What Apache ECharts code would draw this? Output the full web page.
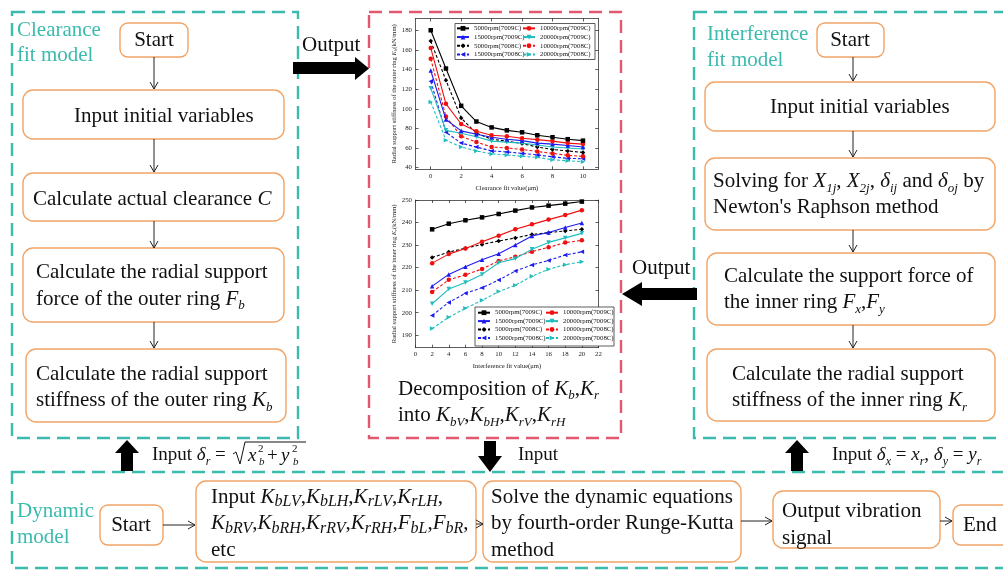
<!DOCTYPE html>
<html><head><meta charset="utf-8">
<script src="https://cdn.jsdelivr.net/npm/echarts@6/dist/echarts.min.js"></script>
<style>html,body{margin:0;padding:0;background:#fff}#c{width:1003px;height:572px}</style>
</head><body><div id="c"></div>
<script>
// ---------- data ----------
const seriesNames = ['5000rpm(7009C)','10000rpm(7009C)','15000rpm(7009C)','20000rpm(7009C)','5000rpm(7008C)','10000rpm(7008C)','15000rpm(7008C)','20000rpm(7008C)'];
const clearanceX = [0,1,2,3,4,5,6,7,8,9,10];
const outer5000_7009  = [180,141,103,87,81,78,76,73,71,69,67.5];
const outer10000_7009 = [162,105,84.5,77,73,72,70,68.5,67,65,64];
const outer15000_7009 = [139,89,77.5,74,71,69,67.5,65,64,62.5,61];
const outer20000_7009 = [121,78,75,71.5,67,66,65,63,61,60,59];
const outer5000_7008  = [169,129,90.5,75,69,67,64.5,61,58.5,57,55.5];
const outer10000_7008 = [151,92,72,66,61,60,58.5,56.5,54.5,52.5,51.5];
const outer15000_7008 = [128,76,65,61,57,56,54.5,53,51,49.5,49];
const outer20000_7008 = [107,68,61,57,54,53,51.5,50.5,48,47,46];
const interferenceX = [2,4,6,8,10,12,14,16,18,20];
const inner5000_7009  = [237,239.5,241,242.3,243.8,245.3,246.7,247.5,248.4,249.3];
const inner10000_7009 = [222,226,228.5,231.5,234.2,237,239.2,241.3,243.3,245.5];
const inner15000_7009 = [211.8,217,220.4,223.5,226.2,230,234,235.6,237.8,239.8];
const inner20000_7009 = [204,210.5,213.4,217,222.2,224,228.2,231.2,233.2,235.2];
const inner5000_7008  = [224.5,226.9,228.6,230.3,231.8,233.2,234.7,235.5,236.3,237];
const inner10000_7008 = [209.2,214.6,216.8,219.4,223,224.8,227.1,229,231.1,232.1];
const inner15000_7008 = [198.8,204.6,208.6,211.1,214.5,218.5,221.2,223.2,225.6,227];
const inner20000_7008 = [193,198,202,205.5,209.4,212.2,216.2,219.3,221.3,222.6];
const outerTickY = [40,60,80,100,120,140,160,180];
const clearanceTickX = [0,2,4,6,8,10];
const innerTickY = [190,200,210,220,230,240,250];

// ---------- styles ----------
const F = '"Liberation Serif","Times New Roman",serif';
const TEAL = '#3bbbad', ORANGE = '#f1a465', REDD = '#e2596f', INK = '#111';
const lineStyles = [
  {c:'#000000', s:'rect', r:0, d:'solid'},
  {c:'#f01010', s:'circle', r:0, d:'solid'},
  {c:'#1c1cf0', s:'triangle', r:0, d:'solid'},
  {c:'#20bcbc', s:'triangle', r:180, d:'solid'},
  {c:'#000000', s:'diamond', r:0, d:[3,2]},
  {c:'#f01010', s:'circle', r:0, d:[3,2]},
  {c:'#1c1cf0', s:'triangle', r:90, d:[3,2]},
  {c:'#20bcbc', s:'triangle', r:-90, d:[3,2]}
];
const outerSets = [outer5000_7009,outer10000_7009,outer15000_7009,outer20000_7009,outer5000_7008,outer10000_7008,outer15000_7008,outer20000_7008];
const innerSets = [inner5000_7009,inner10000_7009,inner15000_7009,inner20000_7009,inner5000_7008,inner10000_7008,inner15000_7008,inner20000_7008];

function richSet(size, color, subRatio){
  const ss = Math.round(size*(subRatio||0.62));
  return {
    i:{fontFamily:F,fontSize:size,fontStyle:'italic',fill:color,lineHeight:size*1.25},
    s:{fontFamily:F,fontSize:ss,fontStyle:'italic',fill:color,verticalAlign:'bottom',lineHeight:ss}
  };
}
function T(x,y,text,o){
  o = o||{};
  const size = o.size||21, color = o.color||INK, al = o.align||'left';
  return {type:'text', x:x, y:y, z:10, style:{
    text:text, fontFamily:F, fontSize:size, fontStyle:o.italic?'italic':'normal', fill:color,
    lineHeight:o.lh||26, rich:richSet(size,color,o.sub),
    align:al, textAlign:al, verticalAlign:'middle', textVerticalAlign:'middle'}};
}
function box(x1,y1,x2,y2,r){
  return {type:'rect', z:5, shape:{x:x1,y:y1,width:x2-x1,height:y2-y1,r:r||10}, style:{fill:'#fff',stroke:ORANGE,lineWidth:1.4}};
}
function dash(x1,y1,x2,y2,col){
  return {type:'rect', z:4, shape:{x:x1,y:y1,width:x2-x1,height:y2-y1}, style:{fill:null,stroke:col,lineWidth:2.4,lineDash:[13,7]}};
}
function aDown(x,y1,y2){
  return [{type:'line',z:6,shape:{x1:x,y1:y1,x2:x,y2:y2},style:{stroke:'#222',lineWidth:1}},
          {type:'polyline',z:6,shape:{points:[[x-4,y2-7],[x,y2],[x+4,y2-7]]},style:{stroke:'#222',fill:null,lineWidth:1}}];
}
function aRight(x1,x2,y){
  return [{type:'line',z:6,shape:{x1:x1,y1:y,x2:x2,y2:y},style:{stroke:'#222',lineWidth:1}},
          {type:'polyline',z:6,shape:{points:[[x2-7,y-4],[x2,y],[x2-7,y+4]]},style:{stroke:'#222',fill:null,lineWidth:1}}];
}
function poly(pts){ return {type:'polygon',z:6,shape:{points:pts},style:{fill:'#000'}}; }

const G = [];
// containers
G.push(dash(12,12,298,438,TEAL), dash(369,12,621,438,REDD), dash(694,12,1012,438,TEAL), dash(12,472,1012,568,TEAL));
// left panel
G.push(box(120,23,188,57,8), box(23,90,284,139), box(23,173,284,221), box(23,248,284,322), box(26,349,286,422));
G.push(...aDown(154,57,89), ...aDown(154,139,172), ...aDown(154,221,248), ...aDown(154,322,348));
G.push(T(17,30,'Clearance',{color:TEAL}), T(17,55,'fit model',{color:TEAL}));
G.push(T(154,40,'Start',{align:'center'}));
G.push(T(74,116,'Input initial variables'));
G.push(T(33,199,'Calculate actual clearance {i|C}'));
G.push(T(36,286,'Calculate the radial support\nforce of the outer ring {i|F}{s|b}'));
G.push(T(36,387.5,'Calculate the radial support\nstiffness of the outer ring {i|K}{s|b}'));
// middle
G.push(T(398,402.5,'Decomposition of {i|K}{s|b},{i|K}{s|r}\ninto {i|K}{s|bV},{i|K}{s|bH},{i|K}{s|rV},{i|K}{s|rH}'));
G.push(T(302,45,'Output'), T(632,268,'Output'));
G.push(poly([[293,62],[355,62],[355,57],[369,68.5],[355,80],[355,74],[293,74]]));
G.push(poly([[697,288],[642,288],[642,282],[622,294],[642,306],[642,300],[697,300]]));
// right panel
G.push(box(817,23,884,57,8), box(705,82,995,131), box(705,158,995,230), box(707,253,995,325), box(707,349,995,421));
G.push(...aDown(853,57,81), ...aDown(853,131,157), ...aDown(853,230,252), ...aDown(853,325,348));
G.push(T(707,34,'Interference',{color:TEAL}), T(707,60,'fit model',{color:TEAL}));
G.push(T(850,40,'Start',{align:'center'}));
G.push(T(770,107,'Input initial variables'));
G.push(T(713,194.5,'Solving for {i|X}{s|1j}, {i|X}{s|2j}, {i|δ}{s|ij} and {i|δ}{s|oj} by\nNewton\'s Raphson method'));
G.push(T(724,289.5,'Calculate the support force of\nthe inner ring {i|F}{s|x},{i|F}{s|y}'));
G.push(T(732,387.5,'Calculate the radial support\nstiffness of the inner ring {i|K}{s|r}'));
// connecting arrows between panels and dynamic model
G.push(poly([[127,440],[139,453],[133,453],[133,471],[121,471],[121,453],[115,453]]));
G.push(poly([[797,440],[809,453],[803,453],[803,471],[791,471],[791,453],[785,453]]));
G.push(poly([[484,441],[496,441],[496,456],[502,456],[490,472],[478,456],[484,456]]));
G.push(T(152,455,'Input {i|δ}{s|r} = ',{size:19}));
G.push({type:'polyline',z:6,shape:{points:[[233,454],[236,452],[240,464],[245,442],[306,442]]},style:{stroke:'#111',fill:null,lineWidth:1}});
G.push(T(248,456,'{i|x}',{size:19}), T(258,449,'2',{size:11,lh:12}), T(259,462,'{i|b}',{size:11,lh:12}));
G.push(T(267,456,'+',{size:19}));
G.push(T(281,456,'{i|y}',{size:19}), T(292,449,'2',{size:11,lh:12}), T(293,462,'{i|b}',{size:11,lh:12}));
G.push(T(518,455,'Input',{size:19}));
G.push(T(832,455,'Input {i|δ}{s|x} = {i|x}{s|r}, {i|δ}{s|y} = {i|y}{s|r}',{size:19}));
// dynamic model
G.push(T(17,511,'Dynamic',{color:TEAL}), T(17,537,'model',{color:TEAL}));
G.push(box(100,505,163,545,8), box(196,481,476,562), box(483,481,741,562), box(773,491,940,548), box(953,505,1014,545,8));
G.push(...aRight(163,195,525), ...aRight(476,483,524), ...aRight(741,772,521), ...aRight(940,952,521));
G.push(T(131,525,'Start',{align:'center'}));
G.push(T(211,523.5,'Input {i|K}{s|bLV},{i|K}{s|bLH},{i|K}{s|rLV},{i|K}{s|rLH},\n{i|K}{s|bRV},{i|K}{s|bRH},{i|K}{s|rRV},{i|K}{s|rRH},{i|F}{s|bL},{i|F}{s|bR},\netc',{lh:26.5,sub:0.74}));
G.push(T(491,523.5,'Solve the dynamic equations\nby fourth-order Runge-Kutta\nmethod',{lh:26.5}));
G.push(T(782,524.5,'Output vibration\nsignal',{lh:27}));
G.push(T(963,525,'End'));
// legend frames
G.push({type:'rect',z:3,shape:{x:455,y:23.5,width:140,height:36},style:{fill:'#fff',stroke:'#333',lineWidth:0.8}});
G.push({type:'rect',z:3,shape:{x:475,y:307,width:139,height:39},style:{fill:'#fff',stroke:'#333',lineWidth:0.8}});

// ---------- axes ----------
const FS = 6.8;
function ax(extra){
  return Object.assign({
    type:'value', splitLine:{show:false},
    axisLine:{show:true,onZero:false,lineStyle:{color:'#333',width:0.8}},
    axisTick:{show:true,inside:true,length:3,lineStyle:{color:'#333',width:0.8}},
    axisLabel:{fontFamily:F,fontSize:FS,color:'#222',margin:3}
  }, extra);
}
const nameStyle = {fontFamily:F,fontSize:6.6,color:'#222',lineHeight:8,
  rich:{i:{fontFamily:F,fontSize:6.6,fontStyle:'italic',color:'#222',lineHeight:8},
        s:{fontFamily:F,fontSize:4.6,fontStyle:'italic',color:'#222',verticalAlign:'bottom',lineHeight:5}}};

const xAxes = [
  ax({gridIndex:0,min:-1,max:11,axisLabel:{fontFamily:F,fontSize:FS,color:'#222',margin:3,customValues:clearanceTickX},
      axisTick:{show:true,inside:true,length:3,lineStyle:{color:'#333',width:0.8},customValues:clearanceTickX},
      name:'Clearance fit value(μm)',nameLocation:'middle',nameGap:15,nameTextStyle:nameStyle}),
  ax({gridIndex:0,min:-1,max:11,position:'top',axisLabel:{show:false},
      axisTick:{show:true,inside:true,length:3,lineStyle:{color:'#333',width:0.8},customValues:clearanceTickX}}),
  ax({gridIndex:1,min:0,max:22,interval:2,name:'Interference fit value(μm)',nameLocation:'middle',nameGap:15,nameTextStyle:nameStyle}),
  ax({gridIndex:1,min:0,max:22,interval:2,position:'top',axisLabel:{show:false}})
];
const yAxes = [
  ax({gridIndex:0,min:38.3,max:192,axisLabel:{fontFamily:F,fontSize:FS,color:'#222',margin:3.5,customValues:outerTickY},
      axisTick:{show:true,inside:true,length:3,lineStyle:{color:'#333',width:0.8},customValues:outerTickY},
      name:'Radial support stiffness of the outer ring {i|K}{s|b}(kN/mm)',nameLocation:'middle',nameGap:16,nameTextStyle:nameStyle}),
  ax({gridIndex:0,min:38.3,max:192,position:'right',axisLabel:{show:false},
      axisTick:{show:true,inside:true,length:3,lineStyle:{color:'#333',width:0.8},customValues:outerTickY}}),
  ax({gridIndex:1,min:184.5,max:250,axisLabel:{fontFamily:F,fontSize:FS,color:'#222',margin:3.5,customValues:innerTickY},
      axisTick:{show:true,inside:true,length:3,lineStyle:{color:'#333',width:0.8},customValues:innerTickY},
      name:'Radial support stiffness of the inner ring {i|K}{s|r}(kN/mm)',nameLocation:'middle',nameGap:16,nameTextStyle:nameStyle}),
  ax({gridIndex:1,min:184.5,max:250,position:'right',axisLabel:{show:false},
      axisTick:{show:true,inside:true,length:3,lineStyle:{color:'#333',width:0.8},customValues:innerTickY}})
];

const series = [];
function addSeries(sets, xs, gi){
  sets.forEach(function(vals, k){
    const st = lineStyles[k];
    series.push({
      type:'line', name:seriesNames[k], xAxisIndex:gi*2, yAxisIndex:gi*2,
      data: xs.map(function(x,i){return [x, vals[i]];}),
      symbol:st.s, symbolRotate:st.r, symbolSize:4.5, showSymbol:true,
      lineStyle:{color:st.c,width:1.1,type:st.d}, itemStyle:{color:st.c},
      z: 20-k
    });
  });
}
addSeries(outerSets, clearanceX, 0);
addSeries(innerSets, interferenceX, 1);

function leg(left, top, names, gap){
  return {orient:'vertical', left:left, top:top, padding:0, itemWidth:12, itemHeight:6, itemGap:0, z:10,
    textStyle:{fontFamily:F,fontSize:FS,color:'#111',lineHeight:gap}, data:names, selectedMode:false};
}

const option = {
  animation:false,
  backgroundColor:'#fff',
  grid:[{left:415.5,top:18.5,width:182.7,height:150.8},{left:415.5,top:200,width:183,height:147.7}],
  xAxis:xAxes, yAxis:yAxes, series:series,
  legend:[
    leg(456,24,[seriesNames[0],seriesNames[2],seriesNames[4],seriesNames[6]],8.7),
    leg(522,24,[seriesNames[1],seriesNames[3],seriesNames[5],seriesNames[7]],8.7),
    leg(477,308.5,[seriesNames[0],seriesNames[2],seriesNames[4],seriesNames[6]],8.4),
    leg(545,308.5,[seriesNames[1],seriesNames[3],seriesNames[5],seriesNames[7]],8.4)
  ],
  graphic:{elements:G}
};
echarts.init(document.getElementById('c')).setOption(option);
</script></body></html>
